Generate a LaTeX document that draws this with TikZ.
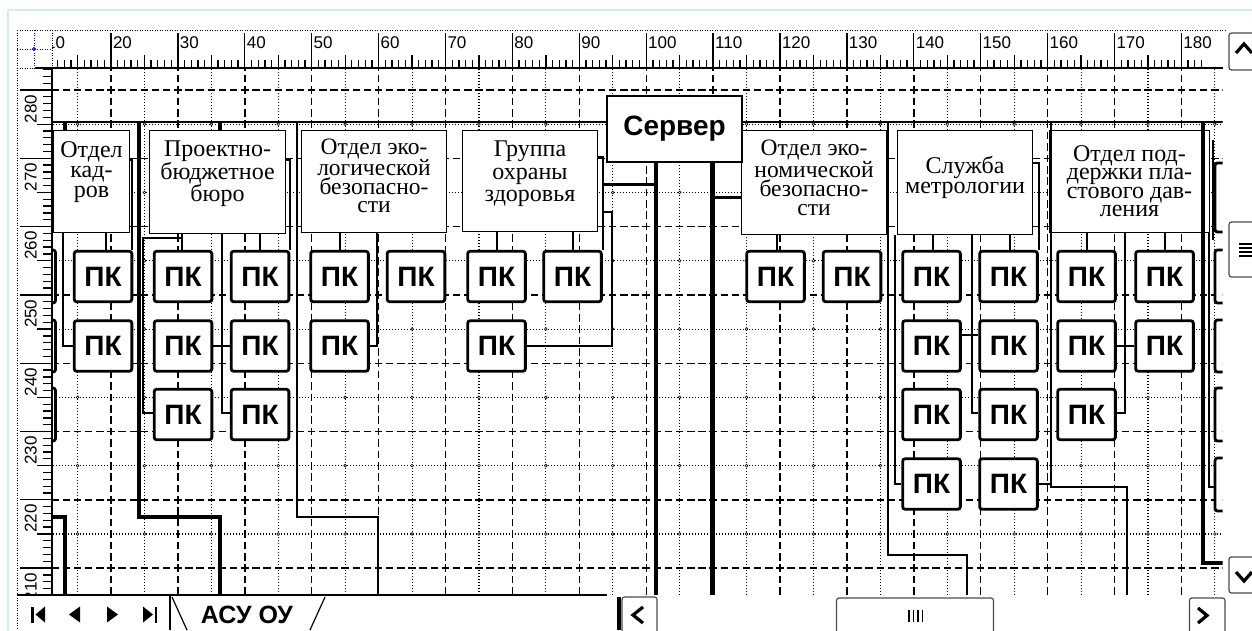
\documentclass[tikz,border=0pt]{standalone}
\usepackage{fontspec}
\setmainfont{Liberation Serif}
\newfontfamily\sansf{Liberation Sans}
\begin{document}
\begin{tikzpicture}[x=1pt,y=-1pt,
  dept/.style={draw, line width=1.4, fill=white, inner sep=0},
  deptxt/.style={align=center, inner sep=0},
  pcbox/.style={draw, line width=2.8, rounded corners=2.5, fill=white, minimum width=57.7, minimum height=50.5, inner sep=0, font=\sansf\bfseries\fontsize{28}{28}\selectfont},
  pcpart/.style={draw, line width=2.8, rounded corners=2.5, fill=white},
  conthin/.style={line width=1.6},
  conmed/.style={line width=2.3},
  conthick/.style={line width=3.2},
  gridmaj/.style={line width=1.4},
  gridmin/.style={line width=1.1, dash pattern=on 1pt off 2pt},
  rulerlab/.style={inner sep=0, font=\sansf\fontsize{17}{17}\selectfont},
  btn/.style={draw=black!70, line width=1.2, rounded corners=2.5, fill=white},
  chev/.style={line width=3.2, line cap=butt, line join=miter}
]
\useasboundingbox (0,0) rectangle (1252,630);
\fill[white] (0,0) rectangle (1252,630);
\draw[color={rgb,255:red,214;green,234;blue,243}, line width=1.5] (8,10) -- (1262,10);
\draw[color={rgb,255:red,214;green,234;blue,243}, line width=1.5] (8,10) -- (8,640);

% ---------------- drawing area ----------------
\begin{scope}
\clip (52,68) rectangle (1222.5,594);
% minor dotted verticals
\foreach \u in {15,25,...,185} {
  \pgfmathsetmacro\xx{111+(\u-20)*6.69}
  \draw[gridmin] (\xx,66) -- (\xx,600);
}
% minor dotted horizontals
\foreach \v in {275,265,...,205} {
  \pgfmathsetmacro\yy{90+(280-\v)*6.83}
  \draw[gridmin] (50,\yy) -- (1230,\yy);
}
% major dashed verticals
\foreach \u in {20,30,...,180} {
  \pgfmathsetmacro\xx{111+(\u-20)*6.69}
  \draw[gridmaj, dash pattern=on 7.59pt off 3.795pt] (\xx,63.44) -- (\xx,600);
}
% major dashed horizontals
\foreach \v in {280,270,...,210} {
  \pgfmathsetmacro\yy{90+(280-\v)*6.83}
  \draw[gridmaj, dash pattern=on 7.43pt off 3.72pt] (40.38,\yy) -- (1230,\yy);
}
% small circles on minor intersections
\foreach \u in {15,25,...,185} {
  \foreach \v in {275,265,...,205} {
    \pgfmathsetmacro\xx{111+(\u-20)*6.69}
    \pgfmathsetmacro\yy{90+(280-\v)*6.83}
    \draw[line width=0.6, fill=white] (\xx,\yy) circle (1.4);
  }
}

% ---- boxes (nodes) ----
\node[dept, minimum width=75.6, minimum height=101.6] (kadr) at (91.5,181.5) {};
\node[dept, minimum width=135.6, minimum height=102.6] (buro) at (217.5,182) {};
\node[dept, minimum width=144.6, minimum height=101.6] (ekol) at (374,181.5) {};
\node[dept, minimum width=134.6, minimum height=100.6] (grup) at (530,181) {};
\node[dept, minimum width=144.6, minimum height=103.6] (econ) at (814,182.5) {};
\node[dept, minimum width=134.6, minimum height=103.6] (metr) at (965,182.5) {};
\node[dept, minimum width=159.6, minimum height=101.6] (plast) at (1129.5,181.5) {};

% PCs
\foreach \nm/\cx/\cy in {KA1/103/276.5, KA2/103/346,
  BA1/183/276.5, BA2/183/346, BA3/183/414.5,
  BB1/260/276.5, BB2/260/346, BB3/260/414.5,
  EA1/339.5/276.5, EA2/339.5/346, EB1/416/276.5,
  GA1/496.5/276.5, GA2/496.5/346, GB1/572.5/276.5,
  CA1/775.5/276.5, CB1/852/276.5,
  MA1/931.5/276.5, MA2/931.5/346, MA3/931.5/414.5, MA4/931.5/484,
  MB1/1008.5/276.5, MB2/1008.5/346, MB3/1008.5/414.5, MB4/1008.5/484,
  PA1/1086.5/276.5, PA2/1086.5/346, PA3/1086.5/414.5,
  PB1/1164.5/276.5, PB2/1164.5/346} {
  \node[pcbox] (pc\nm) at (\cx,\cy) {ПК};
}

% ---- connectors ----
\coordinate (busL) at (52,122);
\coordinate (busR) at (1223,122);
\draw[line width=2.5] (busL) -- (busR);
\draw[conthick] (65,122) -- (kadr.north -| 65,0);
\draw[conthick] (220,122) -- (buro.north -| 220,0);

% left edge / Кадров
\coordinate (lftA) at (52,517);
\draw[conthick] (lftA) -- (65,517) -- (65,600);
\draw[line width=2.8] (kadr.south -| 63,0) -- (63,346) -- (pcKA2.west);
\draw[conthin] (kadr.south -| 106,0) -- (pcKA1.north -| 106,0);
\draw[line width=2] (kadr.east |- 0,160) -- (132,160) -- (pcKA1.north -| 132,0);

% main trunk left
\draw[conthick] (139,122) -- (139,517) -- (220,517) -- (220,600);

% Бюро
\draw[conthin] (buro.south -| 182,0) -- (pcBA1.north -| 182,0);
\draw[conthin] (buro.south -| 260,0) -- (pcBB1.north -| 260,0);
\draw[line width=2] (182,238) -- (143,238) -- (143,413) -- (pcBA3.west |- 0,413);
\draw[line width=2.6] (buro.south -| 222,0) -- (222,413) -- (pcBB3.west |- 0,413);
\draw[line width=2.6] (pcBA2.east) -- (pcBB2.west);
\draw[line width=2.6] (buro.east |- 0,160) -- (290,160) -- (pcBB1.north -| 290,0);

% Экологической
\draw[conmed] (297,122) -- (297,517) -- (378,517) -- (378,600);
\draw[conthin] (ekol.south -| 340,0) -- (pcEA1.north -| 340,0);
\draw[line width=2.6] (ekol.south -| 377,0) -- (377,346) -- (pcEA2.east);

% Группа охраны
\draw[conthin] (grup.south -| 497,0) -- (pcGA1.north -| 497,0);
\draw[conthin] (grup.south -| 573,0) -- (pcGB1.north -| 573,0);
\draw[line width=2.6] (grup.east |- 0,157) -- (603,157) -- (pcGB1.north -| 603,0);
\draw[line width=2] (603,212) -- (612,212) -- (612,346) -- (pcGA2.east);

% Сервер trunks
\draw[line width=4] (656,163) -- (656,600);
\draw[line width=5] (712,163) -- (712,600);
\draw[line width=3] (603,184) -- (656,184);
\draw[line width=3] (712,197) -- (econ.west |- 0,197);

% Экономической
\draw[conthin] (econ.south -| 777,0) -- (pcCA1.north -| 777,0);
\draw[line width=2] (888,122) -- (888,555) -- (967,555) -- (967,600);

% Метрологии
\draw[conthin] (metr.south -| 933,0) -- (pcMA1.north -| 933,0);
\draw[conthin] (metr.south -| 1010,0) -- (pcMB1.north -| 1010,0);
\draw[line width=2.6] (metr.south -| 972,0) -- (972,413) -- (pcMB3.west |- 0,413);
\draw[line width=2.6] (pcMA2.east |- 0,335) -- (pcMB2.west |- 0,335);
\draw[line width=2.4] (metr.east |- 0,163) -- (1039,163) -- (pcMB1.north -| 1039,0);
\draw[line width=2] (metr.south -| 895,0) -- (895,484) -- (pcMA4.west);
\draw[line width=2] (pcMB4.east) -- (1051,484);

% Пластового давления
\draw[conthin] (plast.south -| 1087,0) -- (pcPA1.north -| 1087,0);
\draw[conthin] (plast.south -| 1165,0) -- (pcPB1.north -| 1165,0);
\draw[line width=2.6] (plast.south -| 1125,0) -- (1125,413) -- (pcPA3.east |- 0,413);
\draw[line width=2.6] (pcPA2.east) -- (pcPB2.west);
\draw[line width=2] (1051,122) -- (1051,487) -- (1127,487) -- (1127,600);

% right edge
\coordinate (rgtA) at (1223,563);
\draw[conthick] (1203,122) -- (1203,563) -- (rgtA);
\draw[line width=1.6] (1213,140) -- (1213,240);
\draw[line width=1.8] (1209,233) -- (1209,487) -- (1215,487);

% partial boxes at the window edges
\foreach \t/\b in {250/303, 320/372, 388/441} {
  \draw[pcpart] (-20,\t) rectangle (55.5,\b);
}
\foreach \t/\b in {163/232, 250/303, 320/372, 388/441, 458/511} {
  \draw[pcpart] (1215,\t) rectangle (1280,\b);
}

% Сервер
\node[draw, line width=2, fill=white, minimum width=135, minimum height=66, inner sep=0,
  font=\sansf\bfseries\fontsize{28}{28}\selectfont] (serv) at (674.5,129) {Сервер};

% department texts
\node[deptxt, font=\fontsize{24}{20}\selectfont] (kadrT) at (91.5,172.3) {Отдел\\кад-\\ров};
\node[deptxt, font=\fontsize{24}{22.5}\selectfont] (buroT) at (217.5,173.8) {Проектно-\\бюджетное\\бюро};
\node[deptxt, font=\fontsize{23.5}{18.5}\selectfont] (ekolT) at (374,176) {Отдел эко-\\логической\\безопасно-\\сти};
\node[deptxt, font=\fontsize{24}{22.5}\selectfont] (grupT) at (530,173.8) {Группа\\охраны\\здоровья};
\node[deptxt, font=\fontsize{23.5}{19}\selectfont] (econT) at (814,178) {Отдел эко-\\номической\\безопасно-\\сти};
\node[deptxt, font=\fontsize{24}{20}\selectfont] (metrT) at (965,177) {Служба\\метрологии};
\node[deptxt, font=\fontsize{24}{18.5}\selectfont] (plastT) at (1129.5,181) {Отдел под-\\держки пла-\\стового дав-\\ления};
\end{scope}

% ---------------- rulers ----------------
\begin{scope}
\clip (52,29) rectangle (1223,69);
\foreach \u in {10,...,183} {
  \pgfmathsetmacro\xx{111+(\u-20)*6.69}
  \pgfmathsetmacro\tlen{ifthenelse(mod(\u,10)==0,35,ifthenelse(mod(\u,5)==0,13,8))}
  \draw[line width=1.3] (\xx,68) -- (\xx,68-\tlen);
}
\foreach \u in {10,20,...,180} {
  \pgfmathsetmacro\xx{111+(\u-20)*6.69}
  \node[rulerlab, anchor=north west] at (\xx+1.8,36.5) {\u};
}
\end{scope}
\begin{scope}
\clip (16,68) rectangle (52,595);
\foreach \v in {207,...,291} {
  \pgfmathsetmacro\yy{90+(280-\v)*6.83}
  \pgfmathsetmacro\tlen{ifthenelse(mod(\v,10)==0,32,ifthenelse(mod(\v,5)==0,15,9))}
  \draw[line width=1.3] (52,\yy) -- (52-\tlen,\yy);
}
\foreach \v in {210,220,...,290} {
  \pgfmathsetmacro\yy{90+(280-\v)*6.83}
  \node[rulerlab, rotate=90, anchor=base east] at (36.5,\yy+4.5) {\v};
}
\end{scope}
% ruler borders and corner
\draw[line width=1, dash pattern=on 1pt off 1.5pt] (17,30) -- (1226,30);
\draw[line width=1, dash pattern=on 1pt off 1.5pt] (17,30) -- (17,630);
\draw[line width=1, dash pattern=on 1pt off 1.5pt] (52,30) -- (52,68);
\draw[line width=1, dash pattern=on 1pt off 1.5pt] (17,68) -- (35,68);
\draw[line width=2] (35,68) -- (1223,68);
\draw[line width=1.5] (52,68) -- (52,595);
\draw[blue, line width=1, dash pattern=on 1pt off 1.5pt] (34,30) -- (34,68);
\draw[blue, line width=1, dash pattern=on 1pt off 1.5pt] (17,49) -- (52,49);
\draw[blue, line width=0.8] (34,49) circle (1.5);

% ---------------- bottom bar ----------------
\draw[line width=1.6] (17,595) -- (607,595);
\fill (31,607) rectangle (33.5,623);
\fill (45,606.5) -- (35.5,614.5) -- (45,622.5) -- cycle;
\fill (80,606.5) -- (69,614.5) -- (80,622.5) -- cycle;
\fill (107,606.5) -- (118,614.5) -- (107,622.5) -- cycle;
\fill (143,606.5) -- (153,614.5) -- (143,622.5) -- cycle;
\fill (154.5,607) rectangle (157,623);
\draw[line width=1.2] (170,596) -- (170,630);
\draw[line width=1.2] (172,597) -- (187,630);
\draw[line width=1.2] (325,597) -- (310,630);
\node[inner sep=0, anchor=base, font=\sansf\bfseries\fontsize{25}{25}\selectfont] (tab) at (247,623) {АСУ ОУ};

\fill (617,597) rectangle (620.5,630);
\draw[btn] (622,597) rectangle (657,640);
\draw[chev] (643,607) -- (633,615) -- (643,623);
\draw[btn] (836.5,598) rectangle (993.5,640);
\foreach \i in {0,1,2,3} { \draw[line width=1.2] (909+\i*4.5,610) -- (909+\i*4.5,622); }
\draw[btn] (1189.5,598) rectangle (1225,640);
\draw[chev] (1198,608) -- (1207,615.5) -- (1198,623);

% ---------------- right scrollbar ----------------
\draw[btn] (1229,33) rectangle (1262,70);
\draw[chev] (1236,53) -- (1244,44) -- (1252,53);
\draw[btn] (1229,222) rectangle (1262,277);
\foreach \i in {0,1,2,3} { \draw[line width=1.2] (1239,244+\i*4) -- (1252,244+\i*4); }
\draw[btn] (1229,557) rectangle (1262,593);
\draw[chev] (1236,572) -- (1244,581) -- (1252,572);
\end{tikzpicture}
\end{document}
